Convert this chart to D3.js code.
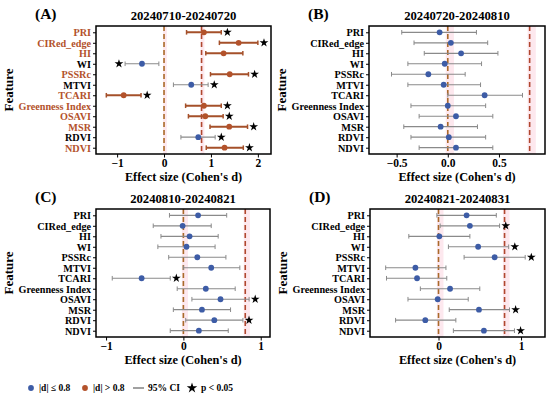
<!DOCTYPE html>
<html>
<head>
<meta charset="utf-8">
<script src="https://cdn.jsdelivr.net/npm/d3@7"></script>
<style>
  body { margin: 0; background: #fff; }
  svg text { font-family: "Liberation Serif", "Times New Roman", serif; font-weight: bold; }
</style>
</head>
<body>
<div id="okvir"></div>
<script>
// ---- data ----
const features = ["PRI", "CIRed_edge", "HI", "WI", "PSSRc", "MTVI", "TCARI",
                  "Greenness Index", "OSAVI", "MSR", "RDVI", "NDVI"];

const titles = ["20240710-20240720", "20240720-20240810", "20240810-20240821", "20240821-20240831"];
const panelTags = ["(A)", "(B)", "(C)", "(D)"];

// Cohen's d, CI low, CI high, significance (1 = star right, -1 = star left, 0 = none)
const dA   = [0.85, 1.59, 1.27, -0.47, 1.40, 0.58, -0.86, 0.85, 0.88, 1.39, 0.73, 1.29];
const loA  = [0.48, 1.18, 0.89, -0.83, 0.99, 0.20, -1.23, 0.46, 0.52, 0.98, 0.36, 0.90];
const hiA  = [1.22, 2.00, 1.68, -0.11, 1.80, 0.94, -0.49, 1.22, 1.26, 1.78, 1.09, 1.69];
const sigA = [1, 1, 0, -1, 1, 1, 1, 1, 1, 1, 1, 1];

const dB   = [-0.08, 0.03, 0.13, -0.03, -0.19, -0.04, 0.36, 0.00, 0.08, -0.07, 0.01, 0.08];
const loB  = [-0.45, -0.33, -0.23, -0.39, -0.55, -0.39, 0.00, -0.36, -0.28, -0.43, -0.36, -0.28];
const hiB  = [0.28, 0.39, 0.49, 0.33, 0.17, 0.32, 0.73, 0.37, 0.44, 0.29, 0.37, 0.44];
const sigB = [0, 0, 0, 0, 0, 0, 0, 0, 0, 0, 0, 0];

const dC   = [0.19, -0.01, 0.08, 0.04, 0.18, 0.36, -0.54, 0.29, 0.48, 0.24, 0.40, 0.20];
const loC  = [-0.18, -0.39, -0.29, -0.33, -0.19, 0.00, -0.92, -0.08, 0.11, -0.13, 0.03, -0.17];
const hiC  = [0.56, 0.36, 0.45, 0.41, 0.55, 0.73, -0.17, 0.67, 0.85, 0.61, 0.77, 0.58];
const sigC = [0, 0, 0, 0, 0, 0, 1, 0, 1, 0, 1, 0];

const dD   = [0.34, 0.38, 0.01, 0.48, 0.68, -0.28, -0.26, 0.14, -0.01, 0.49, -0.16, 0.55];
const loD  = [-0.02, 0.02, -0.36, 0.12, 0.31, -0.64, -0.63, -0.22, -0.37, 0.13, -0.52, 0.18];
const hiD  = [0.70, 0.74, 0.38, 0.85, 1.05, 0.09, 0.10, 0.50, 0.36, 0.86, 0.21, 0.92];
const sigD = [0, 1, 0, 1, 1, 0, 0, 0, 0, 1, 0, 1];

const xTicksA = [-1, 0, 1, 2];
const xTicksB = [-0.5, 0, 0.5];
const xTicksC = [-1, 0, 1];
const xTicksD = [0, 1];

const prag = 0.8;

// ---- layout ----
const sirina = 550, visina = 396;
const boje = {
  mala: "#3d5ca6",
  velika: "#b3522b",
  ciMala: "#8a8a8a",
  ciVelika: "#a5502a",
  nula: "#aa6a2a",
  prag: "#b0472f",
  traka: "#fde8ee"
};

const paneli = [
  {d: dA, lo: loA, hi: hiA, sig: sigA, ticks: xTicksA, fmt: d3.format("d"),   dom: [-1.45, 2.28], box: [96, 271, 26, 154]},
  {d: dB, lo: loB, hi: hiB, sig: sigB, ticks: xTicksB, fmt: d3.format(".1f"), dom: [-0.77, 0.95], box: [369, 545, 26, 154]},
  {d: dC, lo: loC, hi: hiC, sig: sigC, ticks: xTicksC, fmt: d3.format("d"),   dom: [-1.13, 1.12], box: [96, 270, 209, 337]},
  {d: dD, lo: loD, hi: hiD, sig: sigD, ticks: xTicksD, fmt: d3.format("d"),   dom: [-0.83, 1.29], box: [370, 545, 209, 337]}
];

const okvir = d3.select("#okvir").append("svg")
  .attr("width", sirina)
  .attr("height", visina);

paneli.forEach((p, k) => {
  const [x0, x1, y0, y1] = p.box;
  const xSkala = d3.scaleLinear().domain(p.dom).range([x0, x1]);
  const ySkala = d3.scalePoint().domain(features).range([y0, y1]).padding(0.6);
  const podatci = features.map((f, i) => ({f: f, d: p.d[i], lo: p.lo[i], hi: p.hi[i], sig: p.sig[i]}));
  const g = okvir.append("g");

  // faint bands near the reference lines
  [0, prag].forEach(v => {
    g.append("rect")
      .attr("x", xSkala(v - 0.02))
      .attr("y", y0)
      .attr("width", xSkala(v + 0.06) - xSkala(v - 0.02))
      .attr("height", y1 - y0)
      .attr("fill", boje.traka);
  });

  // reference lines
  [[0, boje.nula], [prag, boje.prag]].forEach(([v, c]) => {
    g.append("line")
      .attr("x1", xSkala(v)).attr("x2", xSkala(v))
      .attr("y1", y0).attr("y2", y1)
      .attr("stroke", c)
      .attr("stroke-width", 1.6)
      .attr("stroke-dasharray", "5,3");
  });

  // error bars
  const red = g.selectAll(".red").data(podatci).enter().append("g");
  const velik = dp => Math.abs(dp.d) > prag;
  red.append("line")
    .attr("x1", dp => xSkala(dp.lo)).attr("x2", dp => xSkala(dp.hi))
    .attr("y1", dp => ySkala(dp.f)).attr("y2", dp => ySkala(dp.f))
    .attr("stroke", dp => velik(dp) ? boje.ciVelika : boje.ciMala)
    .attr("stroke-width", dp => velik(dp) ? 2 : 1.2);
  ["lo", "hi"].forEach(kraj => {
    red.append("line")
      .attr("x1", dp => xSkala(dp[kraj])).attr("x2", dp => xSkala(dp[kraj]))
      .attr("y1", dp => ySkala(dp.f) - 2.3).attr("y2", dp => ySkala(dp.f) + 2.3)
      .attr("stroke", dp => velik(dp) ? boje.ciVelika : boje.ciMala)
      .attr("stroke-width", dp => velik(dp) ? 1.5 : 1);
  });
  red.append("circle")
    .attr("cx", dp => xSkala(dp.d))
    .attr("cy", dp => ySkala(dp.f))
    .attr("r", 2.9)
    .attr("fill", dp => velik(dp) ? boje.velika : boje.mala);

  // significance stars
  const pomak = (p.dom[1] - p.dom[0]) * 0.035;
  red.filter(dp => dp.sig !== 0).append("path")
    .attr("d", d3.symbol().type(d3.symbolStar).size(24))
    .attr("transform", dp => {
      const sx = dp.sig > 0 ? xSkala(dp.hi + pomak) : xSkala(dp.lo - pomak);
      return `translate(${sx},${ySkala(dp.f)})`;
    })
    .attr("fill", "#000");

  // frame
  g.append("rect")
    .attr("x", x0).attr("y", y0)
    .attr("width", x1 - x0).attr("height", y1 - y0)
    .attr("fill", "none")
    .attr("stroke", "#000")
    .attr("stroke-width", 1.5);

  // axes
  const xOs = g.append("g")
    .attr("transform", `translate(0,${y1})`)
    .call(d3.axisBottom(xSkala).tickValues(p.ticks).tickFormat(p.fmt).tickSize(3.5).tickPadding(1.5));
  xOs.select(".domain").remove();
  xOs.selectAll("text").attr("font-size", 11.5).attr("fill", "#000")
    .style("font-family", "Liberation Serif").style("font-weight", "bold");

  const yOs = g.append("g")
    .attr("transform", `translate(${x0},0)`)
    .call(d3.axisLeft(ySkala).tickSize(3).tickPadding(2));
  yOs.select(".domain").remove();
  yOs.selectAll("text")
    .attr("font-size", 10.2)
    .attr("dy", "0.34em")
    .style("font-family", "Liberation Serif").style("font-weight", "bold")
    .attr("fill", (f, i) => Math.abs(p.d[i]) > prag ? boje.velika : "#000");

  // titles and labels
  g.append("text")
    .attr("x", (x0 + x1) / 2).attr("y", y0 - 6.5)
    .attr("text-anchor", "middle")
    .attr("font-size", 12.7)
    .text(titles[k]);
  g.append("text")
    .attr("x", x0 - 61).attr("y", y0 - 7.5)
    .attr("font-size", 15.5)
    .text(panelTags[k]);
  g.append("text")
    .attr("x", (x0 + x1) / 2).attr("y", y1 + 27)
    .attr("text-anchor", "middle")
    .attr("font-size", 12.3)
    .text("Effect size (Cohen's d)");
  g.append("text")
    .attr("transform", `translate(${x0 - 83},${(y0 + y1) / 2}) rotate(-90)`)
    .attr("text-anchor", "middle")
    .attr("font-size", 13)
    .text("Feature");
});

// legend
const legenda = okvir.append("g").attr("transform", "translate(0,388)");
legenda.append("circle").attr("cx", 31).attr("cy", 0).attr("r", 2.9).attr("fill", boje.mala);
legenda.append("text").attr("x", 39).attr("y", 3.3).attr("font-size", 9.5).text("|d| ≤ 0.8");
legenda.append("circle").attr("cx", 85).attr("cy", 0).attr("r", 2.9).attr("fill", boje.velika);
legenda.append("text").attr("x", 93).attr("y", 3.3).attr("font-size", 9.5).text("|d| > 0.8");
legenda.append("line").attr("x1", 133).attr("x2", 144).attr("y1", 0).attr("y2", 0)
  .attr("stroke", "#555").attr("stroke-width", 1.1);
legenda.append("text").attr("x", 148).attr("y", 3.3).attr("font-size", 9.5).text("95% CI");
legenda.append("path").attr("d", d3.symbol().type(d3.symbolStar).size(34))
  .attr("transform", "translate(192,0)").attr("fill", "#000");
legenda.append("text").attr("x", 201).attr("y", 3.3).attr("font-size", 9.5).text("p < 0.05");
</script>
</body>
</html>
